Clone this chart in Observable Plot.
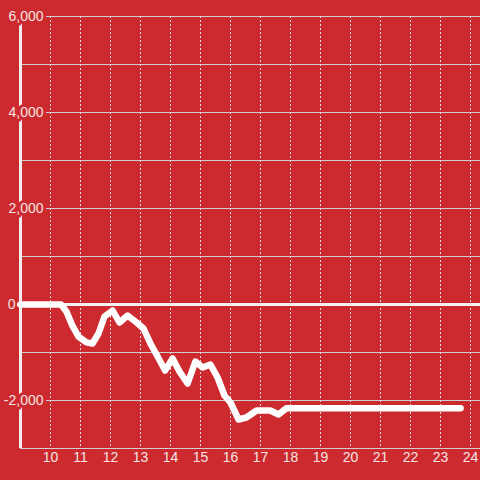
<!DOCTYPE html>
<html>
<head>
<meta charset="utf-8">
<script src="https://cdn.jsdelivr.net/npm/d3@7"></script>
<script src="https://cdn.jsdelivr.net/npm/@observablehq/plot@0.6"></script>
<style>
  html, body { margin: 0; padding: 0; background: #cc2a2f; }
  #chart { width: 480px; height: 480px; }
</style>
</head>
<body>
<div id="chart"></div>
<script>
// Series: hour of day vs. value
const hours  = [9.0, 10.35, 10.53, 10.73, 10.93, 11.2, 11.4, 11.6, 11.8, 12.07, 12.3, 12.57, 12.87, 13.1, 13.33, 13.57, 13.82, 14.07, 14.3, 14.57, 14.83, 15.07, 15.33, 15.57, 15.8, 16.0, 16.27, 16.53, 16.87, 17.33, 17.6, 17.87, 23.67];
const values = [0, 0, -146, -440, -667, -790, -812, -604, -250, -125, -375, -229, -375, -500, -812, -1083, -1375, -1125, -1396, -1646, -1188, -1313, -1250, -1521, -1896, -2042, -2396, -2354, -2208, -2208, -2292, -2160, -2160];

// Axis ticks
const xTicks = [10, 11, 12, 13, 14, 15, 16, 17, 18, 19, 20, 21, 22, 23, 24];
const yGrid = [6000, 5000, 4000, 3000, 2000, 1000, -1000, -2000, -3000];
const yLabelValues = [6000, 4000, 2000, -2000];
const yLabelTexts = ["6,000", "4,000", "2,000", "-2,000"];
const zeroLabel = "0";

const data = hours.map((h, i) => ({hour: h, value: values[i]}));
const yLabels = yLabelValues.map((v, i) => ({value: v, text: yLabelTexts[i]}));

const bg = "#cc2a2f";
const textColor = "#f5e4e4";

const chart = Plot.plot({
  width: 480,
  height: 480,
  marginLeft: 20,
  marginRight: 0,
  marginTop: 16,
  marginBottom: 32,
  style: {background: bg, fontFamily: "'Liberation Sans', Arial, sans-serif", fontSize: "14px"},
  x: {domain: [9, 24.3333], axis: null},
  y: {domain: [-3000, 6000], axis: null},
  marks: [
    Plot.ruleY(yGrid, {stroke: "#cfcfcf", strokeWidth: 1}),
    Plot.ruleX(xTicks, {stroke: "#e6dada", strokeWidth: 1, strokeDasharray: "2,2"}),
    Plot.ruleX([9], {stroke: "#eeeeee", strokeWidth: 3}),
    Plot.text(yLabels, {
      y: "value", text: "text", frameAnchor: "left", dx: 23, textAnchor: "end",
      fill: textColor, stroke: bg, strokeWidth: 6, paintOrder: "stroke", fontSize: 14
    }),
    Plot.text([0], {
      y: d => d, text: () => zeroLabel, frameAnchor: "left", dx: -5, textAnchor: "end",
      fill: textColor, fontSize: 14
    }),
    Plot.ruleY([0], {stroke: "#f2f2f2", strokeWidth: 3, insetLeft: -3}),
    Plot.line(data, {x: "hour", y: "value", stroke: "#ffffff", strokeWidth: 6.5, strokeLinejoin: "round"}),
    Plot.text(xTicks, {x: d => d, frameAnchor: "bottom", dy: 13, fill: textColor, fontSize: 14})
  ]
});
document.getElementById("chart").appendChild(chart);
</script>
</body>
</html>
